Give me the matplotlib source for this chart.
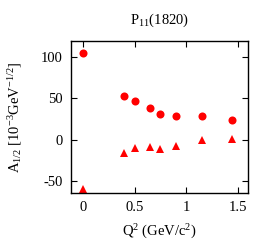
import matplotlib
matplotlib.use('Agg')
import matplotlib.pyplot as plt

# data
q2 = [0.0, 0.4, 0.5, 0.65, 0.75, 0.9, 1.15, 1.45]
a12_circ = [105.5, 53, 47, 38.5, 31.5, 28.5, 28.5, 23.5]
a12_tri = [-60, -16, -10, -9.5, -11.5, -7.5, -1, 0.5]

xticks = [0, 0.5, 1, 1.5]
xticklabels = ['0', '0.5', '1', '1.5']
yticks = [-50, 0, 50, 100]

plt.rcParams['font.family'] = ['Liberation Serif', 'DejaVu Serif']
plt.rcParams['mathtext.fontset'] = 'custom'
plt.rcParams['mathtext.rm'] = 'Liberation Serif'
plt.rcParams['mathtext.it'] = 'Liberation Serif:italic'
plt.rcParams['axes.unicode_minus'] = False
plt.rcParams['font.size'] = 10.5

fig = plt.figure(figsize=(2.73, 2.45), dpi=100)
ax = fig.add_axes([0.26, 0.212, 0.648, 0.621])

ax.plot(q2, a12_circ, 'o', color='#ff0000', markersize=5.8, markeredgewidth=0)
ax.plot(q2, a12_tri, '^', color='#ff0000', markersize=6.2, markeredgewidth=0)

ax.set_xlim(-0.12, 1.6)
ax.set_ylim(-65, 120)
ax.set_xticks(xticks)
ax.set_xticklabels(xticklabels)
ax.set_yticks(yticks)
ax.tick_params(direction='in', top=True, right=True, length=4, width=0.8, pad=6)
for s in ax.spines.values():
    s.set_linewidth(1.0)

ax.set_title(r'P$_{11}$(1820)', fontsize=10.5, pad=12)
ax.set_xlabel(r'Q$^2$ (GeV/c$^2$)', labelpad=6)
ax.set_ylabel(r'A$_{1/2}$ [10$^{-3}$GeV$^{-1/2}$]', labelpad=12)

fig.savefig('out.png', dpi=100)
